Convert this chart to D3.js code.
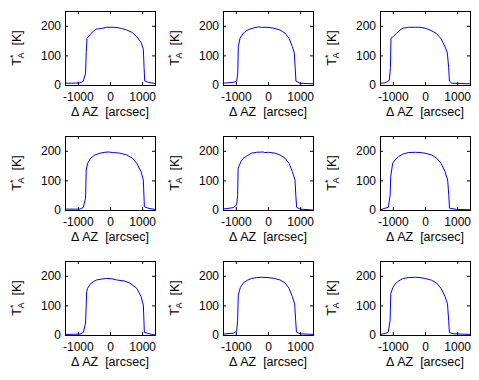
<!DOCTYPE html>
<html><head><meta charset="utf-8">
<script src="https://cdn.jsdelivr.net/npm/d3@7"></script>
<style>
body{margin:0;background:#fff;}
text{font-family:"Liberation Sans",Arial,sans-serif;}
</style></head>
<body><svg id="c" width="479" height="380"></svg>
<script>
// Scan profiles: [ΔAZ arcsec, T*A K]
const scan1=[[-1400,6],[-1200,6],[-950,7],[-830,13],[-760,40],[-740,110],[-715,158],[-622,169],[-520,182],[-415,189],[-260,191],[-100,195],[100,195],[220,194],[363,191],[518,186],[695,177],[830,163],[965,144],[1037,121],[1060,60],[1080,14],[1193,9],[1400,5]];
const scan2=[[-1400,6],[-1080,9],[-975,13],[-940,40],[-925,129],[-870,158],[-768,175],[-663,184],[-560,189],[-404,194],[-300,196],[-196,195],[0,195],[166,192],[373,186],[529,175],[653,158],[757,130],[819,108],[845,60],[870,13],[996,6],[1400,4]];
const scan3=[[-1400,6],[-1245,7],[-1110,16],[-1075,60],[-1058,158],[-985,164],[-882,175],[-778,186],[-674,192],[-519,195],[-300,195],[-155,195],[0,192],[155,186],[342,175],[488,158],[622,130],[695,108],[735,60],[760,13],[830,6],[1400,4]];
const scan4=[[-1400,3],[-933,3],[-830,9],[-760,40],[-740,135],[-695,158],[-602,175],[-467,186],[-311,192],[-156,195],[-50,196],[104,194],[311,192],[518,186],[695,175],[830,158],[965,130],[1037,101],[1055,50],[1070,11],[1193,6],[1400,2]];
const scan5=[[-1400,3],[-1080,8],[-975,17],[-945,50],[-930,141],[-840,164],[-768,175],[-643,184],[-508,192],[-352,195],[-150,196],[-100,194],[10,195],[218,192],[373,186],[529,175],[653,158],[757,130],[840,101],[865,50],[892,9],[1000,3],[1400,0]];
const scan6=[[-1400,0],[-1245,6],[-1141,9],[-1085,50],[-1067,113],[-1005,158],[-933,169],[-830,180],[-705,188],[-519,194],[-300,195],[-155,194],[0,192],[207,186],[363,175],[498,158],[622,130],[705,101],[740,50],[762,6],[985,2],[1400,1]];
const scan7=[[-1400,2],[-933,3],[-830,9],[-760,40],[-726,146],[-695,158],[-622,171],[-519,180],[-415,186],[-260,189],[-100,191],[52,190],[207,186],[467,182],[622,175],[830,158],[965,130],[1037,101],[1055,50],[1068,9],[1296,2],[1400,0]];
const scan8=[[-1400,3],[-1080,6],[-975,13],[-945,50],[-925,135],[-860,160],[-768,176],[-643,185],[-508,191],[-350,194],[-200,195],[0,194],[200,191],[373,186],[529,176],[653,158],[757,130],[830,105],[860,50],[885,10],[1000,4],[1400,2]];
const scan9=[[-1400,2],[-1245,5],[-1141,10],[-1085,50],[-1065,140],[-1000,160],[-930,172],[-830,182],[-700,190],[-519,194],[-300,195],[-155,194],[0,191],[207,185],[363,175],[498,158],[622,130],[700,105],[735,50],[760,8],[900,4],[1400,2]];
const scans=[scan1,scan2,scan3,scan4,scan5,scan6,scan7,scan8,scan9];
const xTicks=[-1000,0,1000];
const yTicks=[0,100,200];
const xDomain=[-1400,1400];
const yDomain=[0,250];
const xLabel="Δ AZ  [arcsec]";

const colX=[65,223,380], rowY=[11,136,261], W=90, H=74;
const FS=12;
const svg=d3.select("#c");
const x=d3.scaleLinear().domain(xDomain).range([0,W]);
const y=d3.scaleLinear().domain(yDomain).range([H,0]);
const line=d3.line().x(d=>x(d[0])).y(d=>y(d[1]));
const fmt=d=>String(d);

scans.forEach((data,i)=>{
  const c=i%3, r=Math.floor(i/3);
  const g=svg.append("g").attr("transform",`translate(${colX[c]},${rowY[r]})`);
  const styleAxis=a=>{a.select(".domain").remove();a.selectAll("line").attr("stroke","#000");a.selectAll("text").attr("font-size",FS).attr("fill","#000").style("font-family","Liberation Sans, Arial, sans-serif");};
  g.append("g").attr("transform",`translate(0,${H})`).call(d3.axisBottom(x).tickValues(xTicks).tickFormat(fmt).tickSizeInner(-3).tickSizeOuter(0).tickPadding(7)).call(styleAxis);
  g.append("g").call(d3.axisTop(x).tickValues(xTicks).tickSizeInner(-3).tickSizeOuter(0).tickFormat("")).call(styleAxis);
  g.append("g").call(d3.axisLeft(y).tickValues(yTicks).tickFormat(fmt).tickSizeInner(-3).tickSizeOuter(0).tickPadding(4)).call(styleAxis);
  g.append("g").attr("transform",`translate(${W},0)`).call(d3.axisRight(y).tickValues(yTicks).tickSizeInner(-3).tickSizeOuter(0).tickFormat("")).call(styleAxis);
  g.append("path").datum(data).attr("d",line).attr("fill","none").attr("stroke","#0000ff").attr("stroke-width",1);
  g.append("rect").attr("x",0.5).attr("y",0.5).attr("width",W).attr("height",H).attr("fill","none").attr("stroke","#000").attr("stroke-width",1);
  g.append("text").attr("x",W/2).attr("y",H+31).attr("text-anchor","middle").attr("font-size",FS+0.5).style("white-space","pre").text(xLabel);
  const yl=g.append("text").attr("transform",`translate(-44,${H/2}) rotate(-90)`).attr("text-anchor","middle").attr("font-size",FS+0.5).style("white-space","pre");
  yl.append("tspan").text("T");
  yl.append("tspan").attr("font-size",9).attr("dy",-5).text("*");
  yl.append("tspan").attr("font-size",9).attr("dx",-4).attr("dy",8).text("A");
  yl.append("tspan").attr("dy",-3).text("  [K]");
});
</script></body></html>
